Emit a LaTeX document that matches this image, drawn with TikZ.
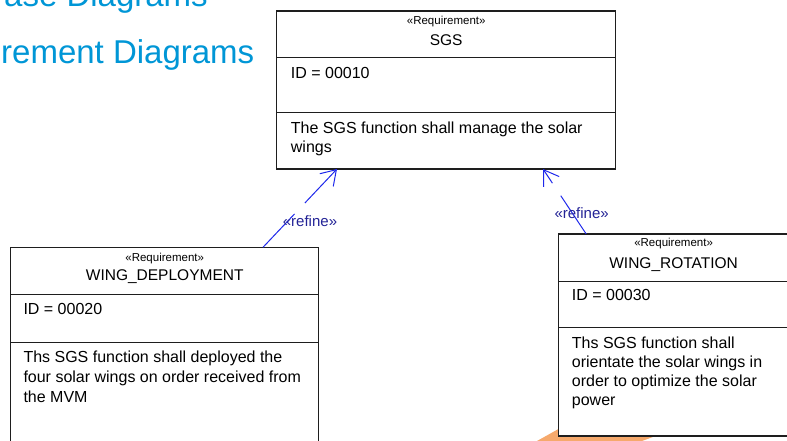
\documentclass[tikz,border=0pt]{standalone}
\usepackage{fontspec}
\setmainfont{Liberation Sans}
\usetikzlibrary{arrows.meta}
\definecolor{titleblue}{RGB}{0,150,214}
\definecolor{refline}{RGB}{30,40,235}
\definecolor{reftext}{RGB}{35,35,150}
\definecolor{hilite}{RGB}{246,169,108}
\definecolor{boxline}{RGB}{30,30,30}
\tikzset{
  reqbox/.style={draw=boxline, line width=1.2pt, fill=white, rectangle,
    anchor=north west, inner sep=0pt, outer sep=0pt},
  sepline/.style={draw=boxline, line width=1.2pt},
  stereo/.style={font=\fontsize{11.5}{13}\selectfont, anchor=base, inner sep=0pt},
  reqname/.style={font=\fontsize{15.5}{18}\selectfont, anchor=base, inner sep=0pt},
  body/.style={font=\fontsize{16}{19.5}\selectfont, anchor=base west, inner sep=0pt},
  refine/.style={draw=refline, line width=1pt, dash pattern=on 46pt off 15pt,
    -{Straight Barb[length=14.3pt,width=18.5pt]}},
  reflabel/.style={text=reftext, font=\fontsize{15}{18}\selectfont,
    anchor=base west, inner sep=0pt},
  menutitle/.style={text=titleblue, font=\fontsize{33}{38}\selectfont, inner sep=0pt}
}
\begin{document}
\begin{tikzpicture}[x=1pt,y=-1pt]
\useasboundingbox (0,0) rectangle (787,441);
\clip (0,0) rectangle (787,441);

% menu entries in the background
\node[menutitle, anchor=base east] (menu1) at (208,6.5) {ase Diagrams};
\node[menutitle, anchor=base west] (menu2) at (1,63.3) {rement Diagrams};

% orange highlight behind the lower right box
\fill[hilite] (537,441) -- (562,427) -- (680,427) -- (642,441) -- cycle;

% ---- SGS ----
\node[reqbox, minimum width=339pt, minimum height=158pt] (sgs) at (276.7,11) {};
\draw[sepline] ([yshift=-46.3pt]sgs.north west) -- ([yshift=-46.3pt]sgs.north east);
\draw[sepline] ([yshift=-101.7pt]sgs.north west) -- ([yshift=-101.7pt]sgs.north east);
\node[stereo] (sgsst) at (446.2,25) {«Requirement»};
\node[reqname] (sgsname) at (446.2,46) {SGS};
\node[body] (sgsid) at (290.7,79) {ID = 00010};
\node[body] (sgsd1) at (290.7,133.3) {The SGS function shall manage the solar};
\node[body] (sgsd2) at (290.7,152.7) {wings};

% ---- WING_DEPLOYMENT ----
\node[reqbox, minimum width=308pt, minimum height=220pt] (wd) at (10.7,247.3) {};
\draw[sepline] ([yshift=-47.4pt]wd.north west) -- ([yshift=-47.4pt]wd.north east);
\draw[sepline] ([yshift=-95.4pt]wd.north west) -- ([yshift=-95.4pt]wd.north east);
\node[stereo] (wdst) at (164.7,261.7) {«Requirement»};
\node[reqname] (wdname) at (164.7,280.7) {WING\_DEPLOYMENT};
\node[body] (wdid) at (23.3,314) {ID = 00020};
\node[body] (wdd1) at (23.3,362.3) {Ths SGS function shall deployed the};
\node[body] (wdd2) at (23.3,382.3) {four solar wings on order received from};
\node[body] (wdd3) at (23.3,402.3) {the MVM};

% ---- WING_ROTATION ----
\node[reqbox, minimum width=231pt, minimum height=202pt] (wr) at (558.3,234) {};
\draw[sepline] ([yshift=-47.3pt]wr.north west) -- ([yshift=-47.3pt]wr.north east);
\draw[sepline] ([yshift=-93.3pt]wr.north west) -- ([yshift=-93.3pt]wr.north east);
\node[stereo] (wrst) at (673.6,246) {«Requirement»};
\node[reqname] (wrname) at (673.6,268.3) {WING\_ROTATION};
\node[body] (wrid) at (571.7,300) {ID = 00030};
\node[body] (wrd1) at (571.7,348.3) {Ths SGS function shall};
\node[body] (wrd2) at (571.7,367.3) {orientate the solar wings in};
\node[body] (wrd3) at (571.7,386.7) {order to optimize the solar};
\node[body] (wrd4) at (571.7,405.7) {power};

% ---- refine relations ----
\draw[refine] ([xshift=98.3pt]wd.north) -- ([xshift=-109.2pt]sgs.south);
\draw[refine] ([xshift=-87.6pt]wr.north) -- ([xshift=96.8pt]sgs.south);
\node[reflabel] (ref1) at (282.7,226.7) {«refine»};
\node[reflabel] (ref2) at (554.3,218.3) {«refine»};
\end{tikzpicture}
\end{document}
